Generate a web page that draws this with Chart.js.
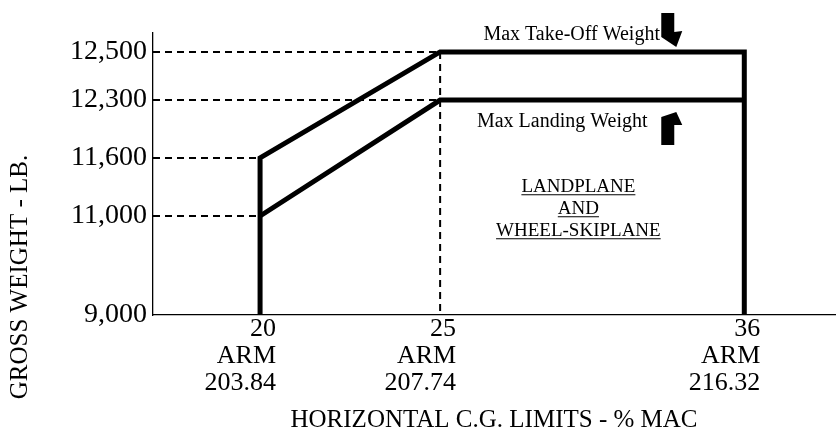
<!DOCTYPE html>
<html>
<head>
<meta charset="utf-8">
<title>Gross weight vs C.G. limits</title>
<script src="https://cdn.jsdelivr.net/npm/chart.js@4/dist/chart.umd.min.js"></script>
<style>
  html, body { margin: 0; padding: 0; background: #fff; }
</style>
</head>
<body>
<canvas id="chart" width="838" height="430"></canvas>
<script>
// C.G. stations (% MAC) and the arm (in.) at each one
const cgTicks = [20, 25, 36];
const armValues = ["203.84", "207.74", "216.32"];
// gross weight ticks, lb
const weightTicks = [9000, 11000, 11600, 12300, 12500];

// max take-off weight envelope
const takeoffCG = [20, 20, 25, 36, 36];
const takeoffWeight = [9000, 11600, 12500, 12500, 9000];
// max landing weight line
const landingCG = [20, 25, 36];
const landingWeight = [11000, 12300, 12300];

// dashed guides: weight level and the C.G. where it meets the envelope
const guideWeight = [12500, 12300, 11600, 11000];
const guideCG = [25, 25, 20, 20];

// the printed chart is not drawn to scale, so both axes are piecewise linear
const X_MIN = 17, X_MAX = 39.3;
const Y_MIN = 9000, Y_MAX = 12580;
const BREAKS = {
  x: { values: [X_MIN, 20, 25, 36, X_MAX], fracs: [0, 0.157, 0.421, 0.867, 1] },
  y: { values: [Y_MIN, 11000, 11600, 12300, 12500, Y_MAX], fracs: [0, 0.351, 0.557, 0.762, 0.933, 1] }
};

function interp(v, from, to) {
  let i = 1;
  while (i < from.length - 1 && v > from[i]) i++;
  const t = (v - from[i - 1]) / (from[i] - from[i - 1]);
  return to[i - 1] + t * (to[i] - to[i - 1]);
}

class BrokenScale extends Chart.LinearScale {
  getPixelForValue(value) {
    const b = BREAKS[this.id];
    return this.getPixelForDecimal(interp(value, b.values, b.fracs));
  }
  getValueForPixel(pixel) {
    const b = BREAKS[this.id];
    return interp(this.getDecimalForPixel(pixel), b.fracs, b.values);
  }
}
BrokenScale.id = "broken";
BrokenScale.defaults = {};
Chart.register(BrokenScale);

Chart.defaults.font.family = '"Liberation Serif", "Times New Roman", serif';
Chart.defaults.color = "#000";

const pts = (xs, ys) => xs.map((x, i) => ({ x, y: ys[i] }));
const thick = { borderColor: "#000", borderWidth: 5, pointRadius: 0, fill: false, borderJoinStyle: "miter", borderCapStyle: "butt" };
const dashed = { borderColor: "#000", borderWidth: 2, borderDash: [7, 5], pointRadius: 0, fill: false };

function drawArrow(ctx, tx, ty, shape) {
  ctx.beginPath();
  shape.forEach(([dx, dy], i) => (i ? ctx.lineTo(tx + dx, ty + dy) : ctx.moveTo(tx + dx, ty + dy)));
  ctx.closePath();
  ctx.fill();
}

const notes = {
  id: "notes",
  afterDraw(chart) {
    const { ctx, scales: { x, y } } = chart;
    ctx.save();
    ctx.fillStyle = "#000";
    ctx.strokeStyle = "#000";

    // weight limit labels
    ctx.font = '20px "Liberation Serif"';
    ctx.textAlign = "right";
    ctx.textBaseline = "alphabetic";
    ctx.fillText("Max Take-Off Weight", x.getPixelForValue(32.95), y.getPixelForValue(12500) - 12);
    ctx.textBaseline = "middle";
    ctx.fillText("Max Landing Weight", x.getPixelForValue(32.5), y.getPixelForValue(12300) + 22);

    // arrows
    const ax = x.getPixelForValue(33.54);
    drawArrow(ctx, ax, y.getPixelForValue(12500) - 5,
      [[-15, -34], [-2, -34], [-2, -15], [6, -16], [0, 0], [-15, -10]]);
    drawArrow(ctx, ax, y.getPixelForValue(12300) + 12,
      [[-15, 33], [-2, 33], [-2, 13], [6, 13], [0, 0], [-15, 5]]);

    // category block, underlined
    ctx.font = '19px "Liberation Serif"';
    ctx.textAlign = "center";
    ctx.textBaseline = "alphabetic";
    ctx.lineWidth = 1.2;
    const cx = x.getPixelForValue(30);
    const cy = y.getPixelForValue(11080);
    ["LANDPLANE", "AND", "WHEEL-SKIPLANE"].forEach((t, i) => {
      const base = cy + (i - 1) * 22 + 6;
      ctx.fillText(t, cx, base);
      const w = ctx.measureText(t).width;
      ctx.beginPath();
      ctx.moveTo(cx - w / 2, base + 2.5);
      ctx.lineTo(cx + w / 2, base + 2.5);
      ctx.stroke();
    });

    // y axis title
    ctx.font = '25px "Liberation Serif"';
    ctx.translate(20, y.bottom - 38);
    ctx.rotate(-Math.PI / 2);
    ctx.textAlign = "center";
    ctx.textBaseline = "middle";
    ctx.fillText("GROSS WEIGHT - LB.", 0, 0);
    ctx.restore();
  }
};

new Chart(document.getElementById("chart"), {
  type: "line",
  data: {
    datasets: [
      { label: "Max Take-Off Weight", data: pts(takeoffCG, takeoffWeight), ...thick },
      { label: "Max Landing Weight", data: pts(landingCG, landingWeight), ...thick },
      ...guideWeight.map((w, i) => ({
        label: "guide " + w,
        data: [{ x: X_MIN, y: w }, { x: guideCG[i], y: w }],
        ...dashed
      })),
      {
        label: "guide 25%",
        data: [{ x: cgTicks[1], y: weightTicks[4] }, { x: cgTicks[1], y: weightTicks[0] }],
        ...dashed
      }
    ]
  },
  options: {
    responsive: false,
    animation: false,
    events: [],
    layout: { padding: { top: 33, right: 3, left: 0, bottom: 0 } },
    plugins: { legend: { display: false }, tooltip: { enabled: false } },
    scales: {
      x: {
        type: "broken",
        min: X_MIN,
        max: X_MAX,
        afterBuildTicks: (s) => { s.ticks = cgTicks.map(value => ({ value })); },
        afterFit: (s) => { s.height = 115; },
        grid: { display: false, drawTicks: false },
        border: { display: true, color: "#000", width: 1.3 },
        ticks: {
          autoSkip: false,
          maxRotation: 0,
          align: "end",
          labelOffset: 16,
          padding: 1,
          font: { size: 26, lineHeight: 1.04 },
          callback: (v, i) => [String(cgTicks[i]), "ARM", armValues[i]]
        },
        title: {
          display: true,
          text: "HORIZONTAL C.G. LIMITS - % MAC",
          font: { size: 25, lineHeight: 0.8 },
          padding: { top: 0, bottom: 0 }
        }
      },
      y: {
        type: "broken",
        min: Y_MIN,
        max: Y_MAX,
        afterBuildTicks: (s) => { s.ticks = weightTicks.map(value => ({ value })); },
        afterFit: (s) => { s.width = 153; },
        grid: { display: false, drawTicks: false },
        border: { display: true, color: "#000", width: 1.3 },
        ticks: {
          autoSkip: false,
          padding: 6,
          font: { size: 28 },
          callback: (v) => v.toLocaleString("en-US")
        }
      }
    }
  },
  plugins: [notes]
});
</script>
</body>
</html>
